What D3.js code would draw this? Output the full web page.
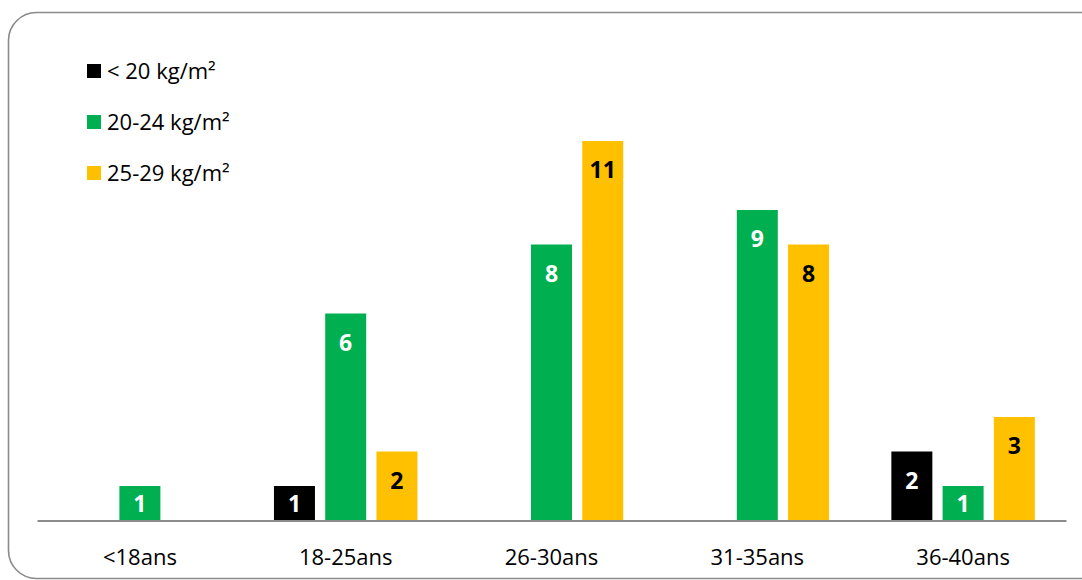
<!DOCTYPE html>
<html>
<head>
<meta charset="utf-8">
<script src="https://cdn.jsdelivr.net/npm/d3@7"></script>
<style>
  html, body { margin: 0; padding: 0; background: #fff; }
  svg { display: block; font-family: "Open Sans", Lato, sans-serif; }
</style>
</head>
<body>
<svg id="chart" width="1082" height="580"></svg>
<script>
// Age groups and BMI classes
const categories = ["<18ans", "18-25ans", "26-30ans", "31-35ans", "36-40ans"];
const seriesNames = ["< 20 kg/m²", "20-24 kg/m²", "25-29 kg/m²"];
const seriesColors = ["#000000", "#00B050", "#FFC000"];
const labelColors = ["#ffffff", "#ffffff", "#000000"];
// counts per age group (null = no bar)
const under20 = [null, 1, null, null, 2];
const from20to24 = [1, 6, 8, 9, 1];
const from25to29 = [null, 2, 11, 8, 3];
const seriesValues = [under20, from20to24, from25to29];

const svg = d3.select("#chart");

// rounded frame
svg.append("rect")
  .attr("x", 8.5).attr("y", 12.5)
  .attr("width", 1110).attr("height", 566)
  .attr("rx", 28).attr("ry", 28)
  .attr("fill", "#fff")
  .attr("stroke", "#8a8a8a").attr("stroke-width", 1.6);

const x0 = d3.scaleBand().domain(categories).range([37, 1066]).padding(0);
const x1 = d3.scaleBand().domain(d3.range(seriesNames.length))
  .range([0, x0.bandwidth()]).paddingInner(0.2).paddingOuter(0.608);
const y = d3.scaleLinear().domain([0, 11]).range([520.5, 141]);

const rows = [];
categories.forEach((c, i) => {
  seriesValues.forEach((vals, s) => {
    if (vals[i] != null) rows.push({ cat: c, s, v: vals[i] });
  });
});

const g = svg.append("g");
g.selectAll("rect.bar").data(rows).join("rect")
  .attr("class", "bar")
  .attr("x", d => x0(d.cat) + x1(d.s))
  .attr("y", d => y(d.v))
  .attr("width", x1.bandwidth())
  .attr("height", d => y(0) - y(d.v))
  .attr("fill", d => seriesColors[d.s]);

// value labels inside the bar ends
g.selectAll("text.val").data(rows).join("text")
  .attr("class", "val")
  .attr("x", d => x0(d.cat) + x1(d.s) + x1.bandwidth() / 2)
  .attr("y", d => {
    const h = y(0) - y(d.v);
    return y(d.v) + Math.min(29, h / 2);
  })
  .attr("dy", "0.36em")
  .attr("text-anchor", "middle")
  .attr("font-size", 23).attr("font-weight", "bold")
  .attr("fill", d => labelColors[d.s])
  .text(d => d.v);

// category axis
const axis = d3.axisBottom(x0).tickSize(0).tickPadding(29);
const ax = svg.append("g").attr("transform", `translate(0,${y(0)})`).call(axis);
ax.select(".domain").attr("stroke", "#8c8c8c").attr("stroke-width", 2);
ax.selectAll("text").attr("font-size", 22).attr("fill", "#000")
  .attr("font-family", "'Open Sans', Lato, sans-serif");

// legend
const leg = svg.append("g").attr("transform", "translate(87,71)");
seriesNames.forEach((n, i) => {
  const r = leg.append("g").attr("transform", `translate(0,${i * 51})`);
  r.append("rect").attr("x", 0).attr("y", -7).attr("width", 14).attr("height", 14)
    .attr("fill", seriesColors[i]);
  r.append("text").attr("x", 20).attr("y", 0).attr("dy", "0.36em")
    .attr("font-size", 22).attr("fill", "#000").text(n);
});
</script>
</body>
</html>
